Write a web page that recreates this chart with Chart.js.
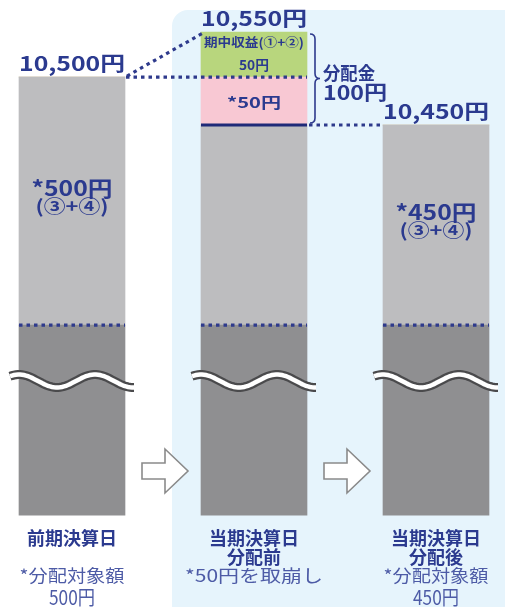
<!DOCTYPE html>
<html lang="ja">
<head>
<meta charset="utf-8">
<script src="https://cdn.jsdelivr.net/npm/chart.js@4.4.1/dist/chart.umd.min.js"></script>
<style>
    html, body { margin: 0; padding: 0; background: #ffffff; }
    #wrap { width: 505px; height: 607px; }
</style>
</head>
<body>
<div id="wrap"><canvas id="fundChart"></canvas></div>
<script>
// 分配金の仕組み (前期決算日 → 当期決算日 分配前 → 分配後)

const categories = ['前期決算日', ['当期決算日', '分配前'], ['当期決算日', '分配後']];
const baseValues = [10000, 10000, 10000];     // 元本部分 (波線で省略)
const distributable = [500, 450, 450];        // 分配対象額 (③+④)
const drawdown = [0, 50, 0];                  // 取崩し分
const income = [0, 50, 0];                    // 期中収益 (①+②)
const navLabels = ['10,500円', '10,550円', '10,450円'];
const innerLabels = [['*500円', '(③+④)'], null, ['*450円', '(③+④)']];
const subNotes = [['*分配対象額', '500円'], ['*50円を取崩し'], ['*分配対象額', '450円']];
const dividendLabel = ['分配金', '100円'];

const NAVY = '#2b3a8f';
const NOTE = '#4d5ba6';
const FONT = '"Noto Sans CJK JP", "Noto Sans", sans-serif';

// 省略のある縦軸: 値 → 位置の割合を区間ごとに決める
const stopValues = [0, 10000, 10450, 10500, 10550];
const stopDecimals = [0, 0.3934, 0.8075, 0.9068, 1];

function toDecimal(v) {
    if (v <= stopValues[0]) return 0;
    for (let i = 1; i < stopValues.length; i++) {
        if (v <= stopValues[i]) {
            const t = (v - stopValues[i - 1]) / (stopValues[i] - stopValues[i - 1]);
            return stopDecimals[i - 1] + t * (stopDecimals[i] - stopDecimals[i - 1]);
        }
    }
    return 1;
}

function fromDecimal(d) {
    for (let i = 1; i < stopDecimals.length; i++) {
        if (d <= stopDecimals[i]) {
            const t = (d - stopDecimals[i - 1]) / (stopDecimals[i] - stopDecimals[i - 1]);
            return stopValues[i - 1] + t * (stopValues[i] - stopValues[i - 1]);
        }
    }
    return stopValues[stopValues.length - 1];
}

class BrokenScale extends Chart.LinearScale {
    getPixelForValue(value) {
        return this.getPixelForDecimal(toDecimal(value));
    }
    getValueForPixel(pixel) {
        return fromDecimal(this.getDecimalForPixel(pixel));
    }
}
BrokenScale.id = 'broken';
BrokenScale.defaults = Chart.LinearScale.defaults;
Chart.register(BrokenScale);

function text(ctx, s, x, y, size, color, weight, width) {
    ctx.save();
    ctx.font = `${weight} ${size}px ${FONT}`;
    ctx.fillStyle = color;
    ctx.textAlign = 'center';
    ctx.textBaseline = 'middle';
    const k = width ? width / ctx.measureText(s).width : 1;
    ctx.translate(x, y);
    ctx.scale(k, 1);
    ctx.fillText(s, 0, 0);
    ctx.restore();
}

function dotted(ctx, x1, y1, x2, y2) {
    ctx.save();
    ctx.strokeStyle = '#2e3a8c';
    ctx.lineWidth = 3.2;
    ctx.setLineDash([3.5, 4]);
    ctx.beginPath();
    ctx.moveTo(x1, y1);
    ctx.lineTo(x2, y2);
    ctx.stroke();
    ctx.restore();
}

function wave(ctx, cx, cy) {
    const pts = [];
    for (let x = cx - 62; x <= cx + 62; x += 2) {
        pts.push([x, cy + 6.5 * Math.sin(2 * Math.PI * (x - (cx - 34)) / 76)]);
    }
    const path = () => {
        ctx.beginPath();
        pts.forEach((p, i) => i ? ctx.lineTo(p[0], p[1]) : ctx.moveTo(p[0], p[1]));
    };
    ctx.save();
    ctx.lineCap = 'butt';
    path();
    ctx.strokeStyle = '#4a4a4c';
    ctx.lineWidth = 9;
    ctx.stroke();
    path();
    ctx.strokeStyle = '#ffffff';
    ctx.lineWidth = 4.5;
    ctx.stroke();
    ctx.restore();
}

function arrow(ctx, cx, cy) {
    ctx.save();
    ctx.beginPath();
    ctx.moveTo(cx - 23, cy - 8);
    ctx.lineTo(cx, cy - 8);
    ctx.lineTo(cx, cy - 22);
    ctx.lineTo(cx + 23, cy);
    ctx.lineTo(cx, cy + 22);
    ctx.lineTo(cx, cy + 8);
    ctx.lineTo(cx - 23, cy + 8);
    ctx.closePath();
    ctx.fillStyle = '#ffffff';
    ctx.fill();
    ctx.strokeStyle = '#8a8a8a';
    ctx.lineWidth = 1.6;
    ctx.stroke();
    ctx.restore();
}

function brace(ctx, x, top, bottom, w) {
    const mid = (top + bottom) / 2, h = w / 2;
    ctx.save();
    ctx.strokeStyle = '#2e3a8c';
    ctx.lineWidth = 1.6;
    ctx.beginPath();
    ctx.moveTo(x, top);
    ctx.quadraticCurveTo(x + h, top, x + h, top + h);
    ctx.lineTo(x + h, mid - h);
    ctx.quadraticCurveTo(x + h, mid, x + w, mid);
    ctx.quadraticCurveTo(x + h, mid, x + h, mid + h);
    ctx.lineTo(x + h, bottom - h);
    ctx.quadraticCurveTo(x + h, bottom, x, bottom);
    ctx.stroke();
    ctx.restore();
}

const backdropPlugin = {
    id: 'backdrop',
    beforeDraw(chart) {
        const ctx = chart.ctx;
        ctx.save();
        ctx.fillStyle = '#e6f4fc';
        ctx.beginPath();
        ctx.roundRect(172, 10, 380, 640, 16);
        ctx.fill();
        ctx.restore();
    }
};

const notesPlugin = {
    id: 'notes',
    afterDatasetsDraw(chart) {
        const ctx = chart.ctx;
        const xs = chart.scales.x, ys = chart.scales.y;
        const half = 53;
        const cx = categories.map((c, i) => xs.getPixelForValue(i));
        const totals = categories.map((c, i) => baseValues[i] + distributable[i] + drawdown[i] + income[i]);
        const yBase = ys.getPixelForValue(baseValues[0]);

        // 省略線と基準の点線
        cx.forEach((x, i) => {
            dotted(ctx, x - half, ys.getPixelForValue(baseValues[i]), x + half, ys.getPixelForValue(baseValues[i]));
            wave(ctx, x, 381);
        });

        // 前期 → 当期の点線
        const y1 = ys.getPixelForValue(totals[0]);
        const y2 = ys.getPixelForValue(totals[1]);
        const y3 = ys.getPixelForValue(totals[2]);
        dotted(ctx, cx[0] + half + 1, y1, cx[1] + half, y1);
        dotted(ctx, cx[0] + half + 2, y1 - 1, cx[1] - half + 2, y2 + 1);

        // 分配後の水準
        ctx.save();
        ctx.strokeStyle = '#1f2a78';
        ctx.lineWidth = 3.2;
        ctx.beginPath();
        ctx.moveTo(cx[1] - half, y3);
        ctx.lineTo(cx[1] + half, y3);
        ctx.stroke();
        ctx.restore();
        dotted(ctx, cx[1] + half + 2, y3, cx[2] - half, y3);

        brace(ctx, cx[1] + half + 3, y2 + 2, y3 - 2, 10);
        text(ctx, dividendLabel[0], cx[1] + half + 42, 73, 18, NAVY, 'bold', 52);
        text(ctx, dividendLabel[1], cx[1] + half + 48, 92, 20, NAVY, 'bold', 64);

        // 基準価額
        totals.forEach((t, i) => {
            text(ctx, navLabels[i], cx[i], ys.getPixelForValue(t) - 14, 20, NAVY, 'bold', 106);
        });

        // 棒の中の注記
        innerLabels.forEach((lines, i) => {
            if (!lines) return;
            const mid = (ys.getPixelForValue(baseValues[i] + distributable[i]) + yBase) / 2 - 5;
            text(ctx, lines[0], cx[i], mid - 8, 21, NAVY, 'bold', 81);
            text(ctx, lines[1], cx[i], mid + 10, 18, NAVY, 'bold', 73);
        });

        const yInc = (ys.getPixelForValue(totals[1]) + ys.getPixelForValue(totals[1] - income[1])) / 2;
        text(ctx, '期中収益(①+②)', cx[1], yInc - 12, 12.5, NAVY, 'bold', 100);
        text(ctx, income[1] + '円', cx[1], yInc + 10, 13.5, NAVY, 'bold', 30);
        const yDraw = (ys.getPixelForValue(totals[1] - income[1]) + y3) / 2;
        text(ctx, '*' + drawdown[1] + '円', cx[1], yDraw + 1, 15, NAVY, 'bold', 54);

        // 矢印
        arrow(ctx, (cx[0] + cx[1]) / 2 + 2, 471);
        arrow(ctx, (cx[1] + cx[2]) / 2 + 2, 471);

        // 下の注記
        const bottom = chart.chartArea.bottom;
        subNotes.forEach((lines, i) => {
            text(ctx, lines[0], cx[i], bottom + 60, 17, NOTE, 'normal', i === 1 ? 138 : 105);
            if (lines[1]) text(ctx, lines[1], cx[i], bottom + 82, 20, NOTE, 'normal', 46);
        });
    }
};

new Chart(document.getElementById('fundChart'), {
    type: 'bar',
    data: {
        labels: categories,
        datasets: [
            { label: '元本', data: baseValues, backgroundColor: '#8f8f91' },
            { label: '分配対象額', data: distributable, backgroundColor: '#bdbdbf' },
            { label: '取崩し', data: drawdown, backgroundColor: '#f8c8d3' },
            { label: '期中収益', data: income, backgroundColor: '#b8d67d' }
        ].map(d => Object.assign(d, { barThickness: 106, borderWidth: 0, clip: false }))
    },
    options: {
        responsive: true,
        maintainAspectRatio: false,
        animation: false,
        layout: { padding: { top: 32, left: 72, right: 69, bottom: 26 } },
        scales: {
            x: {
                type: 'category',
                stacked: true,
                offset: false,
                grid: { display: false, drawTicks: false },
                border: { display: false },
                ticks: {
                    autoSkip: false,
                    maxRotation: 0,
                    padding: 14,
                    color: NAVY,
                    font: { family: FONT, size: 18, weight: 'bold', lineHeight: 1.05 }
                }
            },
            y: {
                type: 'broken',
                stacked: true,
                display: false,
                min: 0,
                max: 10550
            }
        },
        plugins: {
            legend: { display: false },
            tooltip: { enabled: false }
        }
    },
    plugins: [backdropPlugin, notesPlugin]
});
</script>
</body>
</html>
